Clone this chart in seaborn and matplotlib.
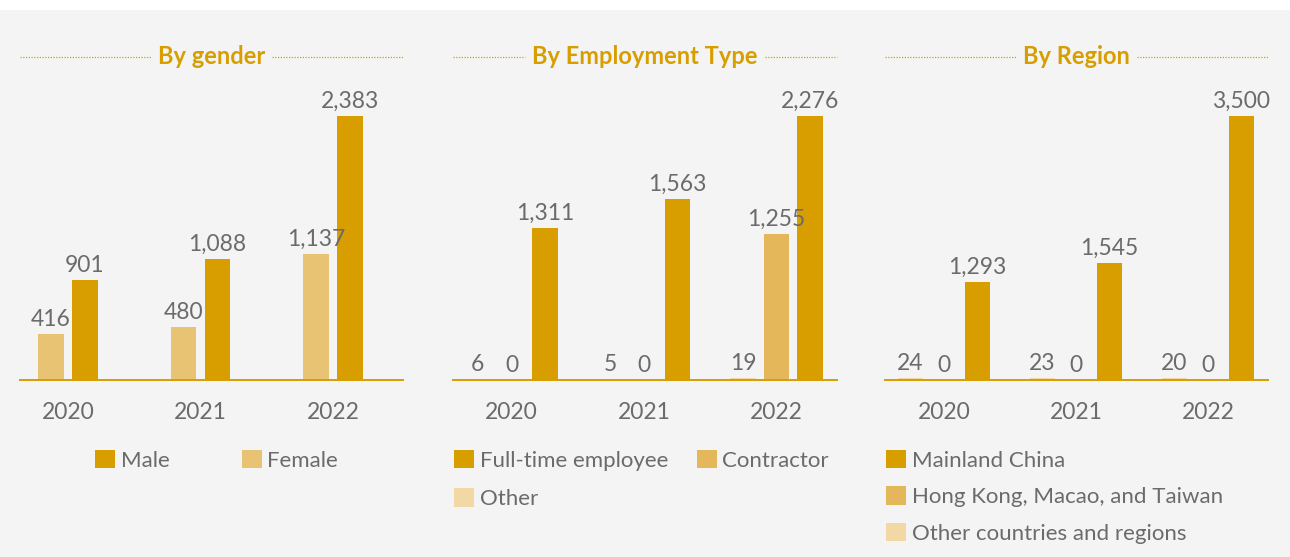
import matplotlib
matplotlib.use("Agg")
import matplotlib.pyplot as plt
from matplotlib.patches import Rectangle, Patch
from matplotlib.lines import Line2D
import seaborn as sns
import pandas as pd

years = ["2020", "2021", "2022"]
gender_male = [901, 1088, 2383]
gender_female = [416, 480, 1137]
emp_fulltime = [1311, 1563, 2276]
emp_contractor = [0, 0, 1255]
emp_other = [6, 5, 19]
region_mainland = [1293, 1545, 3500]
region_hkmt = [0, 0, 0]
region_other = [24, 23, 20]

DARK = "#d89e00"
MID = "#e4b75b"
FEM = "#e8c374"
LIGHT = "#f2d8a4"
GRAY = "#6b6b6b"
BG = "#f4f4f4"

sns.set_theme(style="white")
plt.rcParams["font.family"] = ["Lato", "DejaVu Sans"]

W, H = 1290, 557
fig = plt.figure(figsize=(W / 100, H / 100), dpi=100)
fig.patch.set_facecolor(BG)
fig.patches.append(Rectangle((0, 1 - 10 / H), 1, 10 / H, transform=fig.transFigure,
                             facecolor="white", edgecolor="none", zorder=-5))

FS = 16

panels = [
    dict(title="By gender", x0=20, x1=403, c0=68, c2=333,
         series=[("Female", gender_female, FEM), ("Male", gender_male, DARK)],
         legend_order=["Male", "Female"], width=0.515, gap=0.26,
         leg_xy=(95, 450), ncol=2, colsp=3.25, lsp=0.78),
    dict(title="By Employment Type", x0=453, x1=837, c0=511.5, c2=776.5,
         series=[("Other", emp_other, LIGHT), ("Contractor", emp_contractor, MID),
                 ("Full-time employee", emp_fulltime, DARK)],
         legend_order=["Full-time employee", "Other", "Contractor"], width=0.76, gap=0.25,
         leg_xy=(454, 450), ncol=2, colsp=1.3, lsp=0.78),
    dict(title="By Region", x0=885, x1=1268, c0=944, c2=1208,
         series=[("Other countries and regions", region_other, LIGHT),
                 ("Hong Kong, Macao, and Taiwan", region_hkmt, MID),
                 ("Mainland China", region_mainland, DARK)],
         legend_order=["Mainland China", "Hong Kong, Macao, and Taiwan", "Other countries and regions"],
         width=0.76, gap=0.25, leg_xy=(886, 450), ncol=1, colsp=1.0, lsp=0.7),
]

base_y = 380
top_y = 100
max_y = 116

titles = []
for p in panels:
    ax = fig.add_axes([p["x0"] / W, (H - base_y) / H, (p["x1"] - p["x0"]) / W, (base_y - top_y) / H])
    ax.set_facecolor("none")
    rows = []
    for name, vals, col in p["series"]:
        for yr, v in zip(years, vals):
            rows.append({"year": yr, "value": v, "cat": name})
    df = pd.DataFrame(rows)
    order = [s[0] for s in p["series"]]
    pal = [s[2] for s in p["series"]]
    sns.barplot(data=df, x="year", y="value", hue="cat", hue_order=order, palette=pal,
                width=p["width"], gap=p["gap"], saturation=1, ax=ax, legend=False,
                errorbar=None, linewidth=0)
    vmax = max(max(s[1]) for s in p["series"])
    ax.set_ylim(0, vmax * (base_y - top_y) / (base_y - max_y))
    scale = (p["c2"] - p["c0"]) / 2
    ax.set_xlim(-(p["c0"] - p["x0"]) / scale, 2 + (p["x1"] - p["c2"]) / scale)
    for cont, (name, vals, col) in zip(ax.containers, p["series"]):
        ax.bar_label(cont, labels=[f"{v:,}" for v in vals], padding=3, fontsize=FS + 0.5, color=GRAY)
    for s in ["left", "right", "top"]:
        ax.spines[s].set_visible(False)
    ax.spines["bottom"].set_color(DARK)
    ax.spines["bottom"].set_linewidth(1.4)
    ax.set_yticks([])
    ax.set_xlabel("")
    ax.set_ylabel("")
    ax.tick_params(axis="x", length=0, pad=16, labelsize=FS + 0.5, labelcolor=GRAY)

    cmap = dict((s[0], s[2]) for s in p["series"])
    hl = [Patch(facecolor=cmap[n], edgecolor="none") for n in p["legend_order"]]
    leg = fig.legend(hl, p["legend_order"], loc="upper left",
                     bbox_to_anchor=(p["leg_xy"][0] / W, 1 - p["leg_xy"][1] / H),
                     bbox_transform=fig.transFigure, ncol=p["ncol"], frameon=False,
                     fontsize=FS, handlelength=0.9, handleheight=0.9, handletextpad=0.25,
                     columnspacing=p["colsp"], labelspacing=p["lsp"], borderaxespad=0, borderpad=0)
    for t in leg.get_texts():
        t.set_color(GRAY)

    tx = fig.text((p["x0"] + p["x1"]) / 2 / W, 1 - 57 / H, p["title"], ha="center", va="center",
                  fontsize=FS + 1, fontweight="bold", color=DARK)
    titles.append((tx, p))

fig.canvas.draw()
r = fig.canvas.get_renderer()
for tx, p in titles:
    bb = tx.get_window_extent(r)
    y = 1 - 57 / H
    for xa, xb in [(p["x0"], bb.x0 - 7), (bb.x1 + 7, p["x1"])]:
        fig.add_artist(Line2D([xa / W, xb / W], [y, y], transform=fig.transFigure,
                              color=DARK, linewidth=0.9, linestyle=(0, (1, 1.2))))

fig.savefig("out.png", dpi=100, facecolor=BG)
